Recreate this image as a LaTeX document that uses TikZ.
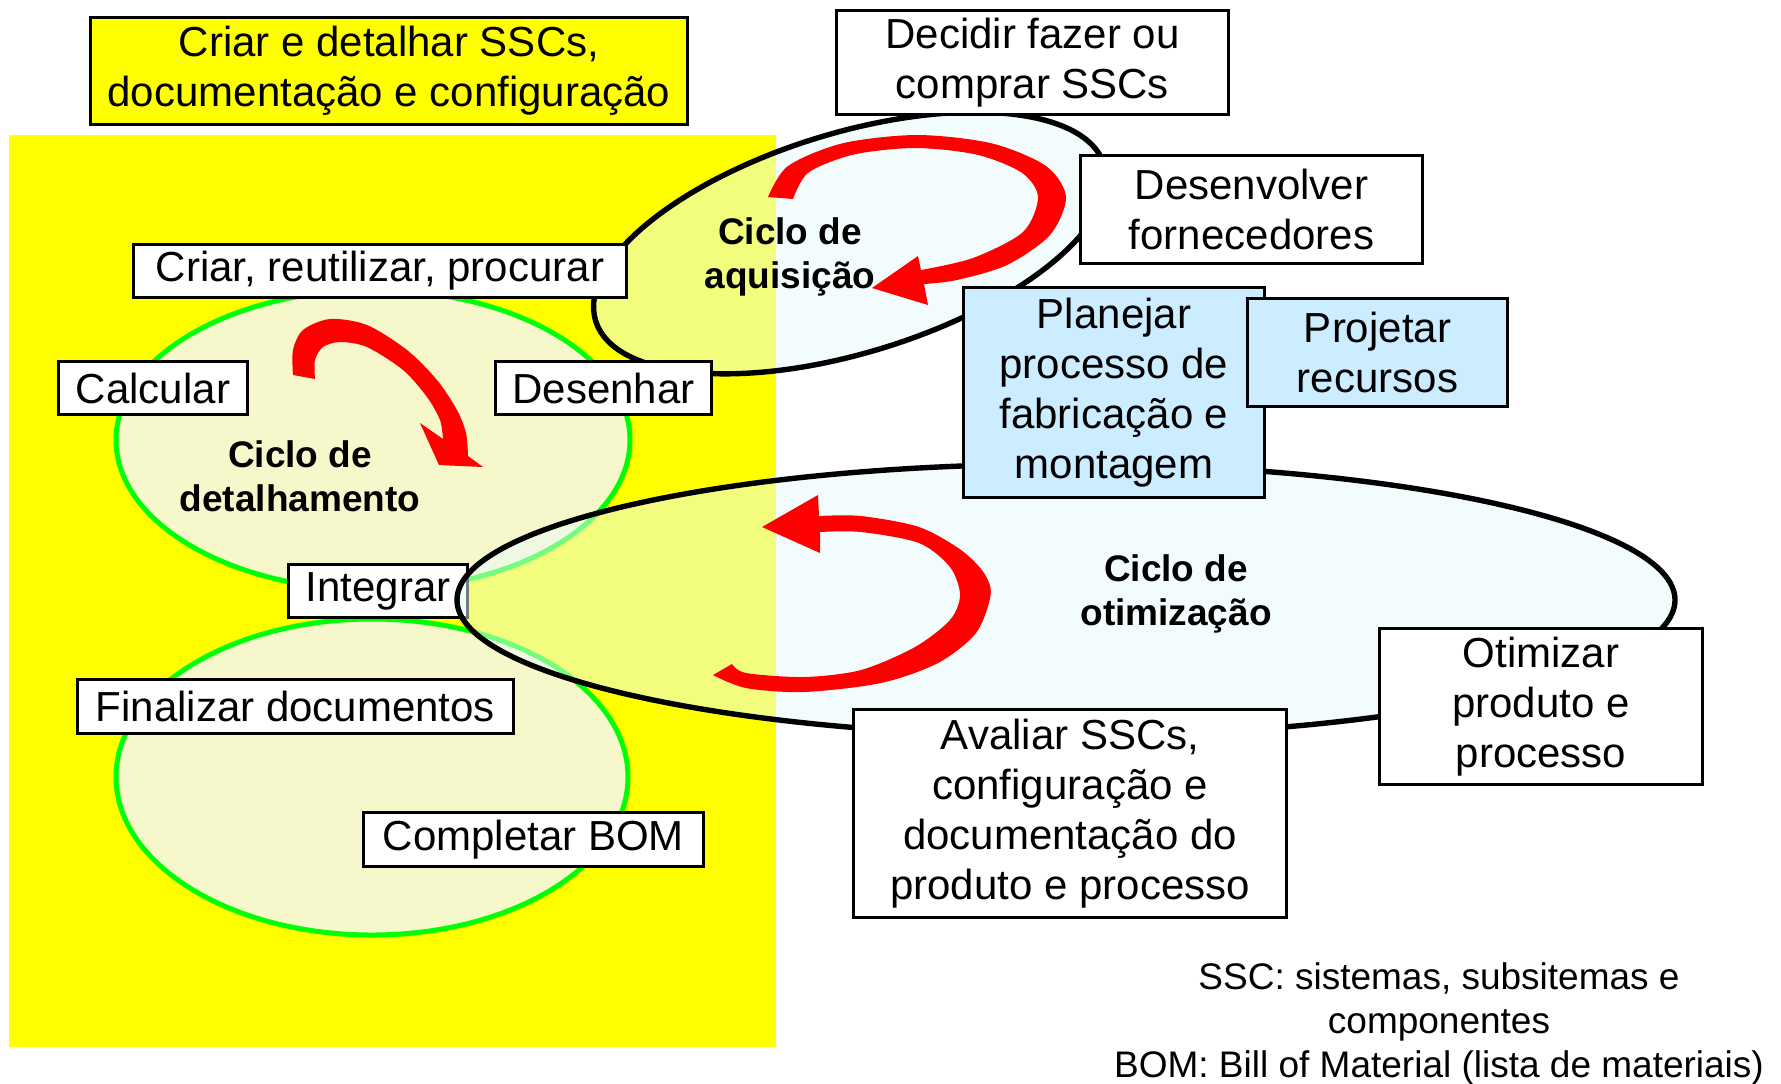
\documentclass[tikz,border=0pt]{standalone}
\usepackage{fontspec}
\setmainfont{Liberation Sans}
\definecolor{ylw}{RGB}{255,255,0}
\definecolor{cream}{RGB}{247,247,204}
\definecolor{grn}{RGB}{0,255,0}
\definecolor{lblue}{RGB}{204,236,255}
\definecolor{ellfill}{RGB}{230,250,250}
\definecolor{arrred}{RGB}{255,0,0}
\newcommand{\bxfont}{\fontsize{21pt}{25pt}\selectfont}
\newcommand{\cyfont}{\fontsize{18.5pt}{22pt}\selectfont\bfseries}
\newcommand{\ntfont}{\fontsize{18.5pt}{22pt}\selectfont}
\begin{document}
\begin{tikzpicture}[x=0.5pt,y=-0.5pt,
  box/.style={draw=black, line width=1.7pt, fill=white, inner sep=0pt, align=center, font=\bxfont},
  cyc/.style={inner sep=0pt, align=center, font=\cyfont},
  detell/.style={draw=grn, line width=2.5pt, fill=cream},
  bigell/.style={draw=black, line width=2.7pt, fill=ellfill, fill opacity=0.5},
  redarrow/.style={fill=arrred}]
\useasboundingbox (0,0) rectangle (1781,1083);
% yellow area
\fill[ylw] (9,135) rectangle (776,1047);
% detailing ellipses
\path[detell] (373,440) ellipse [x radius=128.5pt, y radius=75pt];
\path[detell] (372,777) ellipse [x radius=128pt, y radius=79pt];
\node[box, minimum width=89.25pt, minimum height=26.25pt] (integrar) at (378,591) {Integrar};
% big ellipses
\path[bigell, rotate around={17:(850,243)}] (850,243) ellipse [x radius=133pt, y radius=55pt];
\path[bigell] (1066,600) ellipse [x radius=304.5pt, y radius=68pt];
% boxes
\node[box, fill=ylw, minimum width=298.25pt, minimum height=53.25pt] (title) at (389,71) {Criar e detalhar SSCs,\\documentação e configuração};
\node[box, minimum width=195.75pt, minimum height=51.75pt] (decidir) at (1032.5,62.5) {Decidir fazer ou\\comprar SSCs};
\node[box, minimum width=170.75pt, minimum height=53.75pt] (desenv) at (1251.5,209.5) {Desenvolver\\fornecedores};
\node[box, fill=lblue, minimum width=150.25pt, minimum height=104.75pt] (planejar) at (1114,392.5) {Planejar\\processo de\\fabricação e\\montagem};
\node[box, fill=lblue, minimum width=129.75pt, minimum height=53.75pt] (projetar) at (1377.5,352.5) {Projetar\\recursos};
\node[box, minimum width=246.25pt, minimum height=26.25pt] (criar) at (380,271) {Criar, reutilizar, procurar};
\node[box, minimum width=94.25pt, minimum height=26.25pt] (calcular) at (153,388) {Calcular};
\node[box, minimum width=107.75pt, minimum height=26.25pt] (desenhar) at (603.5,388) {Desenhar};
\node[box, minimum width=217.75pt, minimum height=26.75pt] (finalizar) at (295.5,706.5) {Finalizar documentos};
\node[box, minimum width=169.75pt, minimum height=26.75pt] (completar) at (533.5,839.5) {Completar BOM};
\node[box, minimum width=216.25pt, minimum height=103.75pt] (avaliar) at (1070,813.5) {Avaliar SSCs,\\configuração e\\documentação do\\produto e processo};
\node[box, minimum width=161.25pt, minimum height=77.75pt] (otimizar) at (1541,706.5) {Otimizar\\produto e\\processo};
% red arrows
\fill[redarrow] plot[smooth] coordinates {(768,197) (788,166) (842.5,143.3) (917,135) (991.5,143.3) (1046,166) (1066,197) (1050,235) (1007,265) (957,280) (924,284)}
  -- (928,305) -- (872,288) -- (918,256)
  -- plot[smooth] coordinates {(921,270) (973,258) (1023,232) (1038,197) (1021.5,172.5) (976.5,154.6) (915,148) (853.5,154.6) (808.5,172.5) (793,199)} -- cycle;
\fill[redarrow] plot[smooth] coordinates {(293,375) (293,350) (303,330) (330,319) (367,325) (407,350) (437,380) (457,410) (466,433) (468,456)}
  -- (483,467) -- (439,465) -- (420,423)
  -- plot[smooth] coordinates {(443,439) (440,420) (427,397) (403,370) (367,347) (340,342) (323,347) (315,360) (315,379)} -- cycle;
\fill[redarrow] plot[smooth] coordinates {(819,516) (861,516) (919,527) (961,550) (984,573) (990.6,595) (976,633) (938,663) (881,683) (804,692) (746,688) (713,675)}
  -- plot[smooth] coordinates {(732,664) (746,673) (804,677) (861,670) (915,647) (950,620) (960,595) (950,567) (919,543) (861,532) (820,532)}
  -- (820,553) -- (762,527) -- (818,495) -- cycle;
% cycle labels
\node[cyc] (lacq) at (790,257) {Ciclo de\\aquisição};
\node[cyc] (ldet) at (300,476) {Ciclo de\\detalhamento};
\node[cyc] (lopt) at (1176,594) {Ciclo de\\otimização};
% footnote
\node[inner sep=0pt, align=center, font=\ntfont] (note) at (1439,1024) {SSC: sistemas, subsitemas e\\componentes\\BOM: Bill of Material (lista de materiais)};
\end{tikzpicture}
\end{document}
